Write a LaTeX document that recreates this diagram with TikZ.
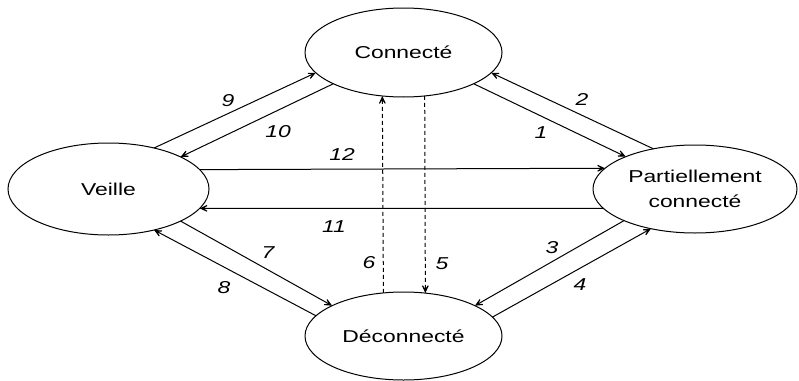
\documentclass[tikz,border=0pt]{standalone}
\usepackage{fontspec}
\usepackage{graphicx}
\usetikzlibrary{shapes.geometric,arrows.meta}
\newfontfamily\arialf{Liberation Sans}
\newcommand\sx[1]{\scalebox{1.33}[1]{#1}}
\tikzset{
  state/.style={ellipse, draw, line width=1pt, inner sep=0pt, outer sep=0pt,
    align=center, font=\arialf\fontsize{17.2}{25.5}\selectfont},
  lbl/.style={inner sep=0pt, font=\arialf\itshape\fontsize{17.2}{20}\selectfont},
  tr/.style={-{Stealth[length=13pt,width=12pt,inset=9pt]}, line width=1pt},
  dtr/.style={tr, dash pattern=on 4pt off 3pt}
}
\begin{document}
\begin{tikzpicture}[x=1pt,y=-1pt]
\useasboundingbox (0,0) rectangle (799,380);
\node[state, minimum width=197pt, minimum height=89pt] (con) at (403.5,52.5) {\sx{Connecté}};
\node[state, minimum width=201pt, minimum height=92pt] (vei) at (108.5,189) {\sx{Veille}};
\node[state, minimum width=204pt, minimum height=88pt] (par) at (695,189) {\sx{Partiellement}\\\sx{connecté}};
\node[state, minimum width=197pt, minimum height=88pt] (dec) at (403.5,336) {\sx{Déconnecté}};
% connectors
\draw[tr] (vei.42.1) -- (con.193.7);
\draw[tr] (con.204.8) -- (vei.24.8);
\draw[tr] (vei.12.5) -- (par.167.6);
\draw[tr] (par.192.3) -- (vei.-12.1);
\draw[tr] (con.-24.1) -- (par.155.7);
\draw[tr] (par.136.4) -- (con.-13.5);
\draw[tr] (par.204.3) -- (dec.23.0);
\draw[tr] (dec.12.3) -- (par.222.2);
\draw[tr] (vei.-24.2) -- (dec.157.3);
\draw[tr] (dec.167.8) -- (vei.-42.8);
\draw[dtr] (dec.115.5) -- (con.244.8);
\draw[dtr] (con.296.3) -- (dec.63.4);
% labels
\node[lbl] (l9) at (228,101) {\sx{9}};
\node[lbl] (l10) at (278,132) {\sx{10}};
\node[lbl] (l12) at (342,154) {\sx{12}};
\node[lbl] (l11) at (334,227) {\sx{11}};
\node[lbl] (l7) at (268,253) {\sx{7}};
\node[lbl] (l8) at (224,288) {\sx{8}};
\node[lbl] (l6) at (369,263) {\sx{6}};
\node[lbl] (l5) at (442,264) {\sx{5}};
\node[lbl] (l3) at (552,248) {\sx{3}};
\node[lbl] (l4) at (580,285) {\sx{4}};
\node[lbl] (l1) at (541,133) {\sx{1}};
\node[lbl] (l2) at (582,99) {\sx{2}};
\end{tikzpicture}
\end{document}
